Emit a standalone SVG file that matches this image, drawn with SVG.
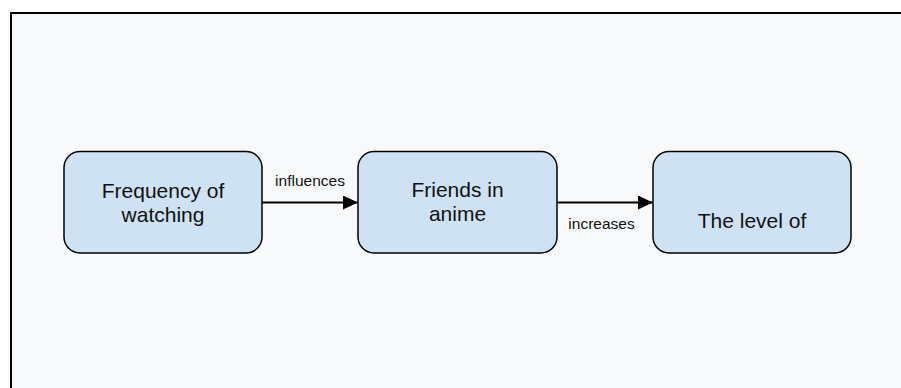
<svg xmlns="http://www.w3.org/2000/svg" width="901" height="388" viewBox="0 0 901 388">
<style>
.node rect{fill:#cfe2f3;stroke:#000;stroke-width:1.5}
.node text{font-family:"Liberation Sans",Arial,sans-serif;font-size:21px;fill:#111;text-anchor:middle}
.lbl{font-family:"Liberation Sans",Arial,sans-serif;font-size:15.5px;fill:#111;text-anchor:middle}
.edge{stroke:#000;stroke-width:2;fill:none}
</style>
<defs>
<marker id="ah" markerWidth="15" markerHeight="14" refX="15" refY="7" orient="auto" markerUnits="userSpaceOnUse">
<path d="M0,0 L15,7 L0,14 Z" fill="#000"/>
</marker>
</defs>
<rect x="0" y="0" width="901" height="388" fill="#fff"/>
<rect x="11" y="13" width="900" height="390" fill="#f7f9fb" stroke="#000" stroke-width="2"/>
<g id="connectors">
<line class="edge" x1="262" y1="202.5" x2="358" y2="202.5" marker-end="url(#ah)"/>
<text class="lbl" x="310" y="186">influences</text>
<line class="edge" x1="557" y1="202.5" x2="653" y2="202.5" marker-end="url(#ah)"/>
<text class="lbl" x="601.5" y="228.5">increases</text>
</g>
<g id="node1" class="node">
<rect x="64" y="151.5" width="198" height="101.5" rx="16"/>
<text x="163" y="197.5">Frequency of</text>
<text x="163" y="221.5">watching</text>
</g>
<g id="node2" class="node">
<rect x="358" y="151.5" width="199" height="101.5" rx="16"/>
<text x="457.5" y="197">Friends in</text>
<text x="457.5" y="221">anime</text>
</g>
<g id="node3" class="node">
<rect x="653" y="151.5" width="198" height="101.5" rx="16"/>
<text x="752" y="228">The level of</text>
</g>
</svg>
